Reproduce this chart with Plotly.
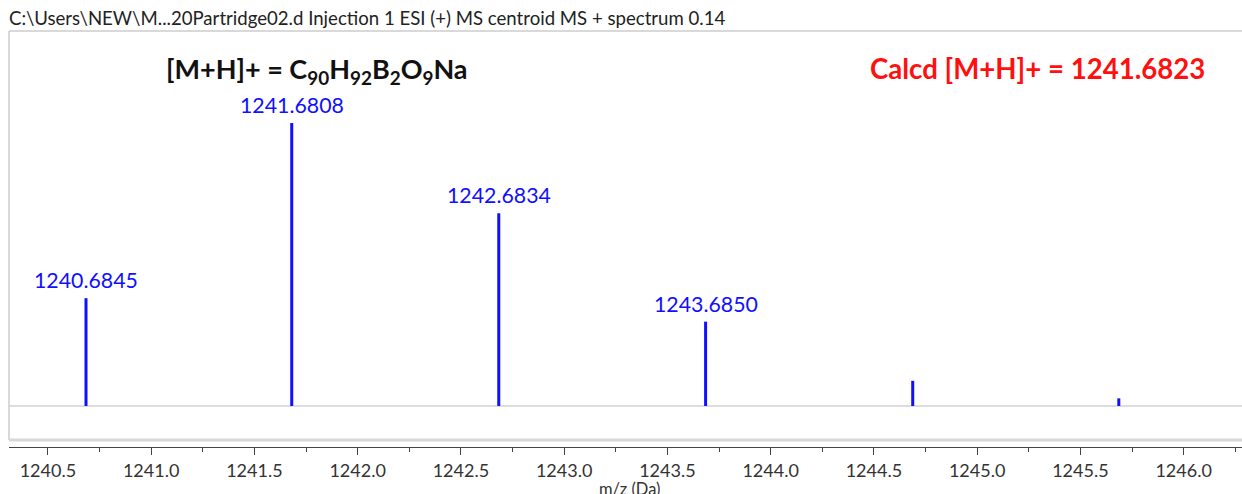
import plotly.graph_objects as go

# Data
mz = [1240.6845, 1241.6808, 1242.6834, 1243.6850, 1244.688, 1245.686]
intensity = [38.1, 100.0, 68.1, 29.8, 8.9, 2.7]
labeled = [True, True, True, True, False, False]
tick_vals = [1240.5, 1241.0, 1241.5, 1242.0, 1242.5, 1243.0, 1243.5,
             1244.0, 1244.5, 1245.0, 1245.5, 1246.0]
tick_text = ["%.1f" % v for v in tick_vals]

title_text = "C:\\Users\\NEW\\M...20Partridge02.d Injection 1 ESI (+) MS centroid MS + spectrum 0.14"
formula_text = "[M+H]+ = C<sub>90</sub>H<sub>92</sub>B<sub>2</sub>O<sub>9</sub>Na"
calcd_text = "Calcd [M+H]+ = 1241.6823"
xlabel = "m/z (Da)"

W, H = 1242, 494
ml, mr, mt, mb = 9, 0, 31, 47
pw, ph = W - ml - mr, H - mt - mb

def px_x(p):
    return (p - ml) / pw

def px_y(p):
    return (H - mb - p) / ph

xs, ys = [], []
for m, v in zip(mz, intensity):
    xs += [m, m, None]
    ys += [0, v, None]

BLUE = "#1010ff"
fig = go.Figure()
fig.add_trace(go.Scatter(x=xs, y=ys, mode="lines",
                         line=dict(color=BLUE, width=3),
                         hoverinfo="skip", showlegend=False))

annotations = []
for m, v, lab in zip(mz, intensity, labeled):
    if lab:
        annotations.append(dict(x=m, y=v, xref="x", yref="y",
                                text="%.4f" % m, showarrow=False,
                                xanchor="center", yanchor="bottom", yshift=3,
                                font=dict(family="Lato", size=21.3, color=BLUE)))

annotations += [
    dict(x=px_x(7), y=px_y(18), xref="paper", yref="paper", text=title_text,
         showarrow=False, xanchor="left", yanchor="middle",
         font=dict(family="Lato", size=18.6, color="#222222")),
    dict(x=px_x(317), y=px_y(70), xref="paper", yref="paper", text="<b>" + formula_text + "</b>",
         showarrow=False, xanchor="center", yanchor="middle",
         font=dict(family="Lato", size=27, color="#111111")),
    dict(x=px_x(1037), y=px_y(68), xref="paper", yref="paper", text="<b>" + calcd_text + "</b>",
         showarrow=False, xanchor="center", yanchor="middle",
         font=dict(family="Lato", size=27.6, color="#ff1010")),
    dict(x=px_x(630), y=px_y(489), xref="paper", yref="paper", text=xlabel,
         showarrow=False, xanchor="center", yanchor="middle",
         font=dict(family="Lato", size=16.5, color="#333333")),
]

shapes = [
    # baseline
    dict(type="line", xref="paper", yref="y", x0=0, x1=1, y0=0, y1=0,
         line=dict(color="#d2d2d2", width=1.5), layer="below"),
    # box: top, left, bottom
    dict(type="line", xref="paper", yref="paper", x0=0, x1=1, y0=1, y1=1,
         line=dict(color="#cccccc", width=1.5)),
    dict(type="line", xref="paper", yref="paper", x0=0, x1=0, y0=px_y(440), y1=1,
         line=dict(color="#cccccc", width=1.5)),
    dict(type="line", xref="paper", yref="paper", x0=0, x1=1, y0=px_y(440), y1=px_y(440),
         line=dict(color="#d8d8d8", width=3)),
]

fig.update_layout(
    width=W, height=H,
    margin=dict(l=ml, r=mr, t=mt, b=mb, pad=0),
    paper_bgcolor="white", plot_bgcolor="white",
    font=dict(family="Lato", color="#333333"),
    annotations=annotations, shapes=shapes,
    xaxis=dict(range=[1240.3116, 1246.2826], tickmode="array",
               tickvals=tick_vals, ticktext=tick_text,
               ticks="outside", ticklen=7, tickwidth=1, tickcolor="#444444",
               showline=True, linecolor="#444444", linewidth=1,
               showgrid=False, zeroline=False,
               tickfont=dict(family="Lato", size=18, color="#333333"),
               minor=dict(ticks="outside", ticklen=4, tickcolor="#444444",
                          dtick=0.25, tick0=1240.25, showgrid=False)),
    yaxis=dict(range=[-14.49, 132.51], visible=False, showgrid=False, zeroline=False),
)

fig.write_html("out.html")
